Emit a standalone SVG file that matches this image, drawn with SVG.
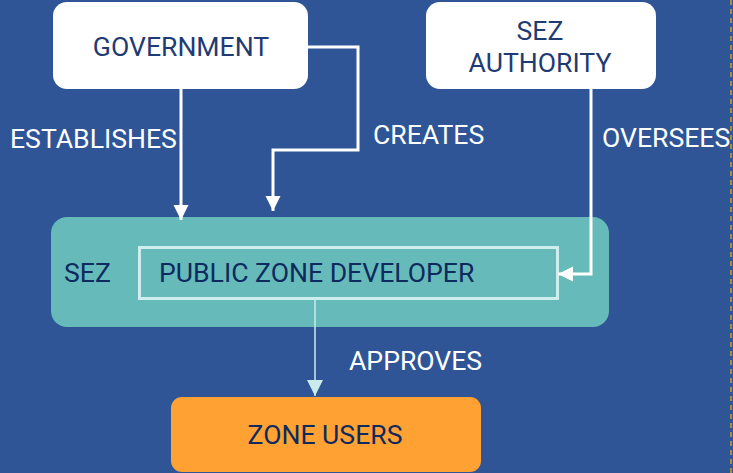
<svg xmlns="http://www.w3.org/2000/svg" width="733" height="473" viewBox="0 0 733 473">
<style>
.bg{fill:#2f5597}
.wbox{fill:#ffffff}
.ntext{font-family:Roboto,"Liberation Sans",sans-serif;font-size:26.6px;fill:#1f3b73;text-anchor:middle}
.dtext{font-family:Roboto,"Liberation Sans",sans-serif;font-size:26.6px;fill:#0e2a5e}
.lbl{font-family:Roboto,"Liberation Sans",sans-serif;font-size:26.6px;fill:#ffffff}
.wline{fill:none;stroke:#ffffff;stroke-width:3}
.cline{fill:none;stroke:#c9ecea;stroke-width:1.5}
</style>
<defs>
<marker id="aw" markerUnits="userSpaceOnUse" markerWidth="16" markerHeight="16" refX="15" refY="8" orient="auto">
<path d="M0,0.5 L15,8 L0,15.5 Z" fill="#ffffff"/>
</marker>
<marker id="ac" markerUnits="userSpaceOnUse" markerWidth="17" markerHeight="17" refX="16" refY="8.5" orient="auto">
<path d="M0,0.5 L16,8.5 L0,16.5 Z" fill="#c9ecea"/>
</marker>
</defs>
<rect class="bg" x="0" y="0" width="733" height="473"/>
<line x1="731" y1="0" x2="731" y2="473" stroke="#c9a227" stroke-width="1.5" stroke-dasharray="5 4"/>
<g id="sez">
<rect x="51" y="217" width="558" height="110" rx="16" fill="#66bbba"/>
<text class="dtext" x="64" y="282">SEZ</text>
</g>
<g id="developer">
<rect x="139.5" y="247.5" width="418" height="51" fill="none" stroke="#cdeeed" stroke-width="3"/>
<text class="dtext" x="159" y="282">PUBLIC ZONE DEVELOPER</text>
</g>
<g id="government">
<rect class="wbox" x="53" y="2" width="255" height="87" rx="14"/>
<text class="ntext" x="181" y="56">GOVERNMENT</text>
</g>
<g id="authority">
<rect class="wbox" x="426" y="2" width="230" height="87" rx="14"/>
<text class="ntext" x="540" y="40">SEZ</text>
<text class="ntext" x="540" y="72">AUTHORITY</text>
</g>
<g id="users">
<rect x="171" y="397" width="310" height="75" rx="11" fill="#ffa133"/>
<text class="ntext" x="325" y="444" style="fill:#0e2a5e">ZONE USERS</text>
</g>
<g id="connectors">
<path class="wline" d="M181,89 V220" marker-end="url(#aw)"/>
<text class="lbl" x="10" y="148">ESTABLISHES</text>
<path class="wline" d="M308,47 H358 V150 H273 V211" marker-end="url(#aw)"/>
<text class="lbl" x="373" y="144">CREATES</text>
<path class="wline" d="M591,89 V274 H558" marker-end="url(#aw)"/>
<text class="lbl" x="602" y="147">OVERSEES</text>
<path class="cline" d="M315,299 V396" marker-end="url(#ac)"/>
<text class="lbl" x="349" y="370">APPROVES</text>
</g>
</svg>
